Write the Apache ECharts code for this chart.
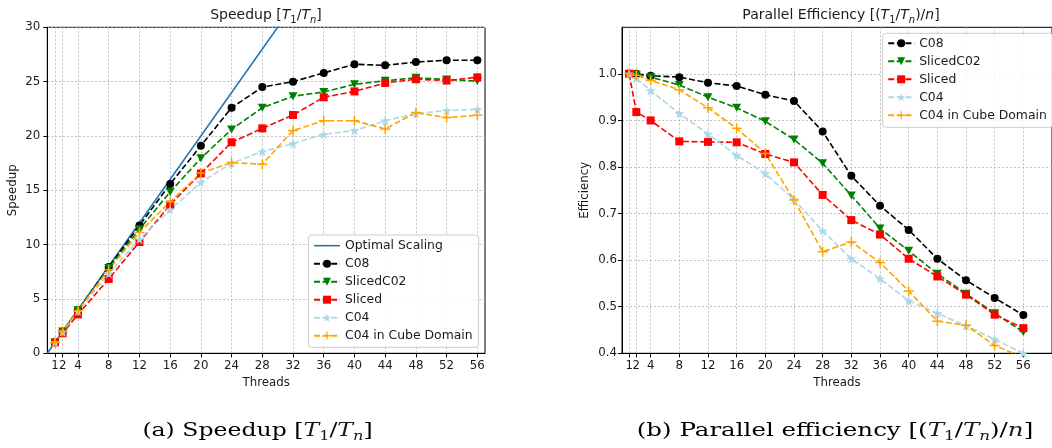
<!DOCTYPE html>
<html>
<head>
<meta charset="utf-8">
<script src="https://cdn.jsdelivr.net/npm/echarts@6/dist/echarts.min.js"></script>
<style>
html,body{margin:0;padding:0;background:#fff;}
#chart{width:1052px;height:448px;}
</style>
</head>
<body>
<div id="chart"></div>
<script>
// ---------------- data ----------------
const threads = [1, 2, 4, 8, 12, 16, 20, 24, 28, 32, 36, 40, 44, 48, 52, 56];
const optimalX = [0, 56];
const optimalY = [0, 56];

// Speedup [T1/Tn]
const speedupC08       = [1, 2.0, 3.98, 7.95, 11.76, 15.58, 19.1, 22.6, 24.5, 25.0, 25.8, 26.6, 26.5, 26.8, 26.97, 26.97];
const speedupSlicedC02 = [1, 2.0, 3.97, 7.85, 11.42, 14.85, 17.95, 20.6, 22.6, 23.65, 24.05, 24.75, 25.08, 25.35, 25.2, 25.05];
const speedupSliced    = [1, 1.84, 3.58, 6.84, 10.24, 13.68, 16.55, 19.42, 20.7, 21.93, 23.56, 24.1, 24.88, 25.22, 25.1, 25.4];
const speedupC04       = [1, 1.98, 3.86, 7.34, 10.5, 13.2, 15.72, 17.5, 18.56, 19.3, 20.15, 20.5, 21.4, 22.05, 22.35, 22.45];
const speedupCube      = [1, 2.0, 3.94, 7.7, 11.12, 13.95, 16.6, 17.55, 17.4, 20.5, 21.4, 21.4, 20.65, 22.15, 21.7, 21.9];

// Parallel efficiency [(T1/Tn)/n]
const effC08       = [1.0, 1.0, 0.996, 0.993, 0.981, 0.974, 0.955, 0.942, 0.876, 0.781, 0.717, 0.665, 0.603, 0.557, 0.519, 0.482];
const effSlicedC02 = [1.0, 0.998, 0.993, 0.976, 0.950, 0.927, 0.898, 0.859, 0.808, 0.739, 0.668, 0.620, 0.571, 0.528, 0.486, 0.446];
const effSliced    = [1.0, 0.918, 0.900, 0.855, 0.854, 0.853, 0.828, 0.810, 0.740, 0.686, 0.655, 0.603, 0.565, 0.526, 0.483, 0.454];
const effC04       = [1.0, 0.990, 0.964, 0.915, 0.871, 0.825, 0.786, 0.730, 0.663, 0.603, 0.560, 0.513, 0.486, 0.459, 0.430, 0.400];
const effCube      = [1.0, 0.997, 0.986, 0.966, 0.927, 0.883, 0.829, 0.729, 0.618, 0.639, 0.595, 0.534, 0.469, 0.460, 0.417, 0.391];

const speedupTicks = [0, 5, 10, 15, 20, 25, 30];
const effTickLabels = [0.4, 0.5, 0.6, 0.7, 0.8, 0.9, 1.0];
// tick labels split in two sets so that the close "1" and "2" labels are both drawn
const threadLabelsA = threads.filter((t, i) => i % 2 === 0);
const threadLabelsB = threads.filter((t, i) => i % 2 === 1);

const names = ['Optimal Scaling', 'C08', 'SlicedC02', 'Sliced', 'C04', 'C04 in Cube Domain'];

// ---------------- styles ----------------
const FONT = 'DejaVu Sans';
const FS = 11.8;
const TXT = '#1a1a1a';
const DASH = [6, 2.6];
const STAR = 'path://M0,-10 L2.35,-3.24 L9.51,-3.09 L3.8,1.24 L5.88,8.09 L0,4 L-5.88,8.09 L-3.8,1.24 L-9.51,-3.09 L-2.35,-3.24 Z';
const PLUS = 'path://M-1.5,-10 L1.5,-10 L1.5,-1.5 L10,-1.5 L10,1.5 L1.5,1.5 L1.5,10 L-1.5,10 L-1.5,1.5 L-10,1.5 L-10,-1.5 L-1.5,-1.5 Z';
const HLINE = 'path://M0,0 L40,0 L40,2.4 L0,2.4 Z';

const styles = {
  'C08':                {color: '#000000', symbol: 'circle',   size: 8,      rotate: 0},
  'SlicedC02':          {color: '#008000', symbol: 'triangle', size: [9, 8], rotate: 180},
  'Sliced':             {color: '#ff0000', symbol: 'rect',     size: 8,      rotate: 0},
  'C04':                {color: '#add8e6', symbol: STAR,       size: 10,     rotate: 0},
  'C04 in Cube Domain': {color: '#ffa500', symbol: PLUS,       size: 10,     rotate: 0}
};

function pairs(xs, ys) { return xs.map((x, i) => [x, ys[i]]); }

function dashedSeries(name, ys, gi) {
  const s = styles[name];
  return {
    name: name, type: 'line', xAxisIndex: gi, yAxisIndex: gi,
    data: pairs(threads, ys),
    symbol: s.symbol, symbolSize: s.size, symbolRotate: s.rotate, showAllSymbol: true,
    itemStyle: {color: s.color, borderWidth: 0},
    lineStyle: {color: s.color, width: 1.6, type: DASH},
    emphasis: {disabled: true}, animation: false, clip: true
  };
}

const gridLine = {show: true, lineStyle: {color: '#b0b0b0', width: 0.8, type: [2, 2]}};
const axisLineK = {show: true, onZero: false, lineStyle: {color: '#000', width: 1}};
const tickK = {show: true, inside: false, length: 4, lineStyle: {color: '#000', width: 1}};
const lblK = {color: TXT, fontFamily: FONT, fontSize: FS, showMinLabel: true, showMaxLabel: true, hideOverlap: false};
const nameK = {color: TXT, fontFamily: FONT, fontSize: FS};

const legendBase = {
  orient: 'vertical', itemWidth: 26, itemHeight: 10, itemGap: 6,
  backgroundColor: 'rgba(255,255,255,0.85)', borderColor: '#cccccc', borderWidth: 1, borderRadius: 3,
  textStyle: {color: TXT, fontFamily: FONT, fontSize: 12.4, lineHeight: 12}, selectedMode: false
};

function titleRich(size, sub, fam) {
  return {
    i: {fontStyle: 'italic', fontFamily: fam, fontSize: size, fill: TXT, lineHeight: size + 6},
    s: {fontFamily: fam, fontSize: sub, fill: TXT, verticalAlign: 'bottom', lineHeight: size + 6},
    t: {fontStyle: 'italic', fontFamily: fam, fontSize: sub, fill: TXT, verticalAlign: 'bottom', lineHeight: size + 6}
  };
}

function threadAxis(gi, max, withName, labels, decor) {
  return {
    type: 'value', gridIndex: gi, min: 0, max: max, position: 'bottom', offset: 0,
    name: withName ? 'Threads' : '', nameLocation: 'middle', nameGap: 22, nameTextStyle: nameK,
    axisLine: decor ? axisLineK : {show: false, onZero: false},
    axisTick: decor ? Object.assign({customValues: threads}, tickK) : {show: false},
    axisLabel: Object.assign({customValues: labels, margin: 7}, lblK),
    splitLine: decor ? gridLine : {show: false}
  };
}

const option = {
  animation: false,
  backgroundColor: '#fff',
  grid: [
    {left: 47.3, top: 27.3, width: 437.7, height: 326, show: true, borderColor: '#000', borderWidth: 1, backgroundColor: 'transparent'},
    {left: 622, top: 27.3, width: 438, height: 326, show: true, borderColor: '#000', borderWidth: 1, backgroundColor: 'transparent'}
  ],
  xAxis: [
    threadAxis(0, 57, true, threadLabelsA, true),
    threadAxis(1, 60, true, threadLabelsA, true),
    threadAxis(0, 57, false, threadLabelsB, false),
    threadAxis(1, 60, false, threadLabelsB, false)
  ],
  yAxis: [
    {type: 'value', gridIndex: 0, min: 0, max: 30, interval: 5,
     name: 'Speedup', nameLocation: 'middle', nameGap: 28, nameTextStyle: nameK,
     axisLine: axisLineK, axisTick: Object.assign({customValues: speedupTicks}, tickK),
     axisLabel: Object.assign({customValues: speedupTicks, margin: 7}, lblK),
     splitLine: gridLine},
    {type: 'value', gridIndex: 1, min: 0.4, max: 1.1,
     name: 'Efficiency', nameLocation: 'middle', nameGap: 31, nameTextStyle: nameK,
     axisLine: axisLineK, axisTick: Object.assign({customValues: effTickLabels}, tickK),
     axisLabel: Object.assign({customValues: effTickLabels, margin: 5, formatter: v => v.toFixed(1)}, lblK),
     splitLine: gridLine}
  ],
  legend: [
    Object.assign({}, legendBase, {
      data: [{name: 'Optimal Scaling', icon: HLINE}].concat(names.slice(1)),
      left: 308.5, top: 235, padding: [4.7, 6, 5.6, 4.5], itemTextGap: 9}),
    Object.assign({}, legendBase, {
      data: names.slice(1),
      left: 882.7, top: 33.3, padding: [4, 6, 6, 4.5], itemTextGap: 10})
  ],
  series: [
    {name: 'Optimal Scaling', type: 'line', xAxisIndex: 0, yAxisIndex: 0,
     data: pairs(optimalX, optimalY), symbol: 'none', clip: true,
     itemStyle: {color: '#1f77b4'}, lineStyle: {color: '#1f77b4', width: 1.6, type: 'solid'},
     emphasis: {disabled: true}},
    dashedSeries('C08', speedupC08, 0),
    dashedSeries('SlicedC02', speedupSlicedC02, 0),
    dashedSeries('Sliced', speedupSliced, 0),
    dashedSeries('C04', speedupC04, 0),
    dashedSeries('C04 in Cube Domain', speedupCube, 0),
    dashedSeries('C08', effC08, 1),
    dashedSeries('SlicedC02', effSlicedC02, 1),
    dashedSeries('Sliced', effSliced, 1),
    dashedSeries('C04', effC04, 1),
    dashedSeries('C04 in Cube Domain', effCube, 1)
  ],
  graphic: [
    {type: 'text', x: 266, y: 15, silent: true,
     style: {text: 'Speedup [{i|T}{s|1}/{i|T}{t|n}]', align: 'center', verticalAlign: 'middle',
       fill: TXT, fontFamily: FONT, fontSize: 14, lineHeight: 20, rich: titleRich(14, 10, FONT)}},
    {type: 'text', x: 841, y: 15, silent: true,
     style: {text: 'Parallel Efficiency [({i|T}{s|1}/{i|T}{t|n})/{i|n}]', align: 'center', verticalAlign: 'middle',
       fill: TXT, fontFamily: FONT, fontSize: 14, lineHeight: 20, rich: titleRich(14, 10, FONT)}},
    {type: 'text', x: 257.5, y: 431, scaleX: 1.24, silent: true,
     style: {text: '(a) Speedup [{i|T}{s|1}/{i|T}{t|n}]', align: 'center', verticalAlign: 'middle',
       fill: '#000', fontFamily: 'DejaVu Serif', fontSize: 19, lineHeight: 25, rich: titleRich(19, 13, 'DejaVu Serif')}},
    {type: 'text', x: 835, y: 431, scaleX: 1.29, silent: true,
     style: {text: '(b) Parallel efficiency [({i|T}{s|1}/{i|T}{t|n})/{i|n}]', align: 'center', verticalAlign: 'middle',
       fill: '#000', fontFamily: 'DejaVu Serif', fontSize: 19, lineHeight: 25, rich: titleRich(19, 13, 'DejaVu Serif')}}
  ]
};

const chart = echarts.init(document.getElementById('chart'), null, {renderer: 'canvas'});
chart.setOption(option);
</script>
</body>
</html>
